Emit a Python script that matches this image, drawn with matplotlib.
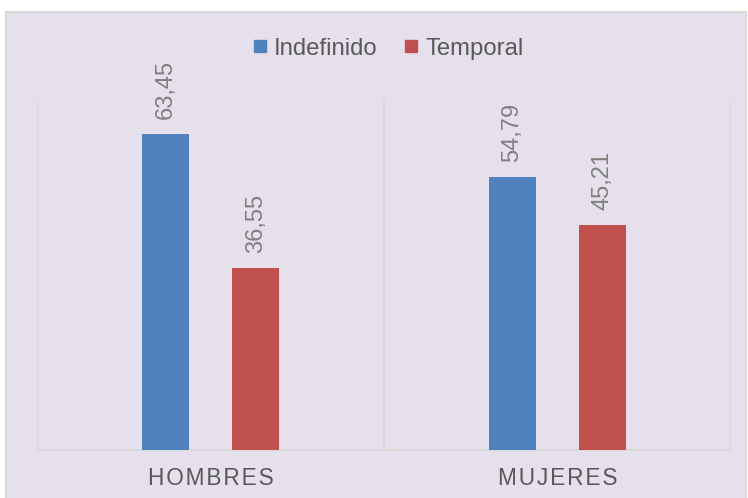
import matplotlib.pyplot as plt
import numpy as np
from matplotlib.patches import Rectangle
from matplotlib.lines import Line2D

plt.rcParams['font.family'] = ['Liberation Sans', 'DejaVu Sans']

categories = ["HOMBRES", "MUJERES"]
series_names = ["Indefinido", "Temporal"]
indefinido = [63.45, 54.79]
temporal = [36.55, 45.21]
colors = ["#4F81BD", "#C0504D"]

fig = plt.figure(figsize=(7.48, 4.98), dpi=100, facecolor="white")

# chart area background with light border
bg = Rectangle((6 / 748, -0.01), 740 / 748, 1 - 12 / 498 + 0.01, transform=fig.transFigure,
               facecolor="#E5E0EC", edgecolor="#D9D9D9", linewidth=1.5, zorder=-10)
fig.patches.append(bg)

ax = fig.add_axes([37 / 748, 48 / 498, 694 / 748, 350 / 498])
ax.set_facecolor("none")

x = np.arange(len(categories))
w = 0.135
off = 0.13
for vals, name, c, d in zip([indefinido, temporal], series_names, colors, [-off, off]):
    bars = ax.bar(x + d, vals, w, color=c, label=name, zorder=3)
    for b, v in zip(bars, vals):
        ax.text(b.get_x() + b.get_width() / 2, v + 3, f"{v:.2f}".replace(".", ","),
                rotation=90, ha="center", va="bottom", fontsize=17, color="#7F7F7F")

ax.set_xlim(-0.5, len(categories) - 0.5)
ax.set_ylim(0, 70.2)
ax.set_yticks([])
ax.set_xticks(x)
ax.set_xticklabels(["\u200a".join(c) for c in categories], fontsize=16.3, color="#595959")
ax.tick_params(axis="x", length=0, pad=12)

# vertical separators between categories
for xv in np.arange(-0.5, len(categories), 1.0):
    ax.axvline(xv, color="#D9D9D9", linewidth=1.5, zorder=1)
for s in ["top", "left", "right"]:
    ax.spines[s].set_visible(False)
ax.spines["bottom"].set_color("#D9D9D9")
ax.spines["bottom"].set_linewidth(1.5)

handles = [Line2D([], [], marker="s", linestyle="", markersize=8, color=c) for c in colors]
fig.legend(handles, series_names, loc="center", bbox_to_anchor=(0.519, 0.902), ncol=2,
           frameon=False, fontsize=17.2, labelcolor="#595959", handlelength=0.6,
           handletextpad=0.3, columnspacing=1.1)

fig.savefig("out.png", dpi=100, facecolor="white")
